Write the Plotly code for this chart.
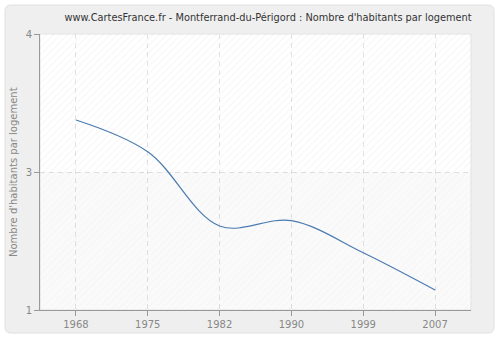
import plotly.graph_objects as go

# Census years and average number of inhabitants per dwelling
years = ["1968", "1975", "1982", "1990", "1999", "2007"]
habitants = [3.377, 3.147, 2.609, 2.647, 2.415, 2.145]

# Axis ticks (value positions and their printed labels)
y_tickvals = [2, 3, 4]
y_ticktext = ["1", "3", "4"]

title = "www.CartesFrance.fr - Montferrand-du-Périgord : Nombre d'habitants par logement"
y_title = "Nombre d'habitants par logement"

W, H = 500, 340
ML, MR, MT, MB = 40, 29, 34, 30
PW, PH = W - ML - MR, H - MT - MB


def px_x(p):
    return (p - ML) / PW


def px_y(p):
    return (H - MB - p) / PH


idx = list(range(len(years)))
x_lo, x_hi = -0.5, len(years) - 0.5
y_lo, y_hi = 2, 4

fig = go.Figure()

# Hatched background bands of the plotting area (translucent so the grid shows)
fig.add_trace(go.Scatter(
    x=[x_lo, x_hi, x_hi, x_lo, x_lo], y=[3, 3, y_hi, y_hi, 3],
    mode="lines", line=dict(width=0), fill="toself", fillcolor="rgba(0,0,0,0)",
    fillpattern=dict(shape="/", fgcolor="rgba(0,0,0,0.07)", bgcolor="rgba(0,0,0,0)",
                     size=5, solidity=0.2),
    hoverinfo="skip", showlegend=False))
fig.add_trace(go.Scatter(
    x=[x_lo, x_hi, x_hi, x_lo, x_lo], y=[y_lo, y_lo, 3, 3, y_lo],
    mode="lines", line=dict(width=0), fill="toself", fillcolor="rgba(0,0,0,0.02)",
    fillpattern=dict(shape="/", fgcolor="rgba(0,0,0,0.035)", bgcolor="rgba(0,0,0,0.02)",
                     size=5, solidity=0.2),
    hoverinfo="skip", showlegend=False))

fig.add_trace(go.Scatter(
    x=idx, y=habitants, mode="lines",
    line=dict(color="#4a7bb0", width=1.2, shape="spline", smoothing=1.0),
    showlegend=False))

grid = "#e3e3e3"
grid_dash = "5px,4px"
tickfont = dict(family="DejaVu Sans", size=10, color="#888888")

# rounded outer panel, corners given in pixels
x0, x1, y0, y1, r = 5, 494, 5, 333, 6
pts = dict(
    x0=px_x(x0), x1=px_x(x1), xr0=px_x(x0 + r), xr1=px_x(x1 - r),
    y0=px_y(y0), y1=px_y(y1), yr0=px_y(y0 + r), yr1=px_y(y1 - r))
panel_path = (
    "M {xr0},{y0} L {xr1},{y0} Q {x1},{y0} {x1},{yr0} "
    "L {x1},{yr1} Q {x1},{y1} {xr1},{y1} "
    "L {xr0},{y1} Q {x0},{y1} {x0},{yr1} "
    "L {x0},{yr0} Q {x0},{y0} {xr0},{y0} Z").format(**pts)

fig.update_layout(
    width=W, height=H,
    margin=dict(l=ML, r=MR, t=MT, b=MB, autoexpand=False),
    paper_bgcolor="#ffffff",
    plot_bgcolor="#ffffff",
    title=dict(text=title, x=268 / W, xanchor="center",
               y=1 - 18 / H, yanchor="middle",
               font=dict(family="DejaVu Sans", size=9.8, color="#333333")),
    xaxis=dict(
        range=[x_lo, x_hi], tickvals=idx, ticktext=years,
        showgrid=True, gridcolor=grid, griddash=grid_dash, gridwidth=1,
        showline=True, linecolor="#999999", linewidth=1,
        ticks="outside", ticklen=5, tickcolor="#999999",
        tickfont=tickfont, automargin=False,
        zeroline=False, fixedrange=True),
    yaxis=dict(
        range=[y_lo, y_hi], tickvals=y_tickvals, ticktext=y_ticktext,
        showgrid=True, gridcolor=grid, griddash=grid_dash, gridwidth=1,
        showline=True, linecolor="#999999", linewidth=1,
        ticks="outside", ticklen=5, tickcolor="#999999",
        tickfont=tickfont, automargin=False,
        zeroline=False, fixedrange=True),
    annotations=[dict(
        text=y_title, textangle=-90, xref="paper", yref="paper",
        x=px_x(13), y=0.5, xanchor="center", yanchor="middle", showarrow=False,
        font=dict(family="DejaVu Sans", size=10, color="#888888"))],
    shapes=[
        dict(type="path", xref="paper", yref="paper", layer="below",
             path=panel_path, fillcolor="#efefef",
             line=dict(color="#e0e0e0", width=1)),
        # white plotting area on top of the panel
        dict(type="rect", xref="paper", yref="paper", layer="below",
             x0=0, x1=1, y0=0, y1=1, fillcolor="#ffffff",
             line=dict(color="#e4e4e4", width=1)),
    ],
)

fig.write_html("out.html")
